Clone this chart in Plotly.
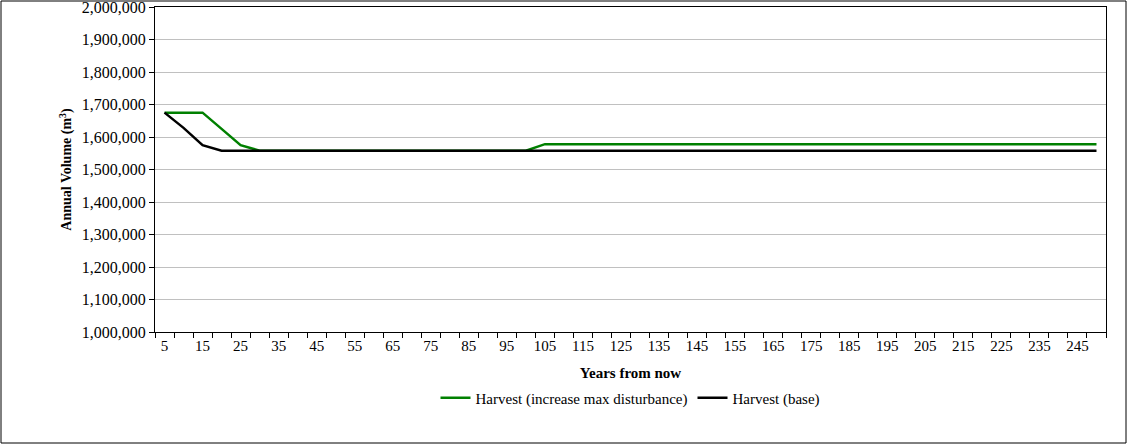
import plotly.graph_objects as go

years = list(range(5, 255, 5))
green = [1675000, 1675000, 1675000, 1625000, 1575000] + [1558000]*15 + [1578000]*30
black = [1675000, 1628000, 1575000] + [1558000]*47
tick_years = list(range(5, 250, 10))
y_ticks = list(range(1000000, 2000001, 100000))

W, H = 1127, 444
L, R, T, B = 155, 21, 7, 112
pw, ph = W - L - R, H - T - B

fig = go.Figure()
fig.add_trace(go.Scatter(x=years, y=green, mode="lines", line=dict(color="#008000", width=2.5),
                         name="Harvest (increase max disturbance)"))
fig.add_trace(go.Scatter(x=years, y=black, mode="lines", line=dict(color="#000000", width=2.5),
                         name="Harvest (base)"))
fig.update_layout(
    width=W, height=H, margin=dict(l=L, r=R, t=T, b=B, autoexpand=False),
    plot_bgcolor="white", paper_bgcolor="white",
    font=dict(family="Liberation Serif", size=15, color="black"),
    showlegend=True,
    legend=dict(orientation="h", x=0.5, xanchor="center", y=-(398 - T - ph) / ph, yanchor="middle",
                font=dict(size=15)),
    xaxis=dict(range=[2.5, 252.5], tickvals=tick_years, ticks="", showgrid=False, automargin=False,
               showline=True, linecolor="black", mirror=True, tickfont=dict(size=15),
               minor=dict(tick0=2.5, dtick=5, ticks="outside", ticklen=5, tickcolor="black", showgrid=False),
               title=dict(text="<b>Years from now</b>", standoff=14, font=dict(size=15)), zeroline=False),
    yaxis=dict(range=[1000000, 2000000], tickvals=y_ticks, tickformat=",d", ticks="outside", ticklen=5,
               tickcolor="black", showgrid=True, gridcolor="#c0c0c0", showline=True, linecolor="black",
               mirror=True, zeroline=False, automargin=False, tickfont=dict(size=16),
               ticklabeloverflow="allow",
               title=dict(text="<b>Annual Volume (m<sup>3</sup>)</b>", standoff=6, font=dict(size=14))),
    shapes=[dict(type="rect", xref="paper", yref="paper",
                 x0=-(L - 1) / pw, x1=1 + (R - 1) / pw, y0=-(B - 1) / ph, y1=1 + (T - 1) / ph,
                 line=dict(color="black", width=1))],
)
fig.write_html("out.html", config={"displayModeBar": False},
               post_script="document.body.style.margin='0';document.body.style.overflow='hidden';")
